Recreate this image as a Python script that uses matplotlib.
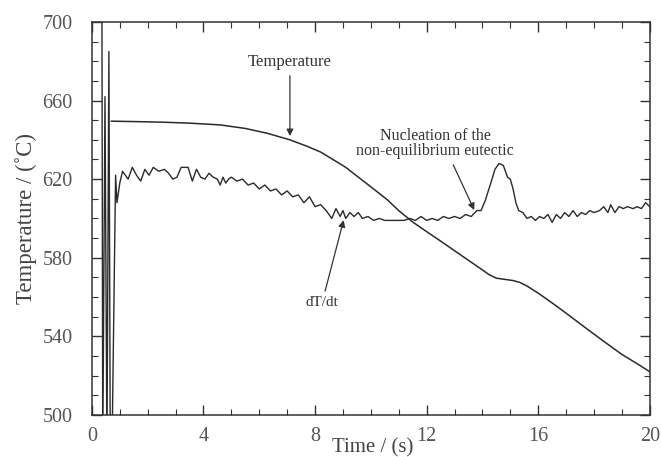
import matplotlib.pyplot as plt
from matplotlib.ticker import MultipleLocator

plt.rcParams['font.family'] = ['Liberation Serif', 'DejaVu Serif']

# temperature curve
temp_t = [0.70, 1.5, 2.5, 3.5, 4.6, 5.5, 6.3, 7.1, 7.7, 8.2, 8.7, 9.1, 9.6, 10.1, 10.6, 11.0,
          11.5, 12.0, 12.5, 13.0, 13.5, 14.0, 14.25, 14.5, 14.8, 15.1, 15.35, 15.6, 16.0, 16.5,
          17.0, 17.7, 18.3, 19.0, 19.5, 20.0]
temp_T = [649.5, 649.3, 649.0, 648.5, 647.6, 645.8, 643.3, 640.0, 636.8, 633.8, 629.5, 626.0,
          620.5, 615.0, 609.4, 604.0, 598.2, 593.3, 588.5, 583.6, 578.7, 573.8, 571.3, 569.6,
          569.0, 568.4, 567.4, 565.6, 562.0, 557.0, 551.8, 544.3, 538.0, 530.8, 526.5, 522.0]

# dT/dt trace, same axis scale
rate_t = [0.36, 0.39, 0.47, 0.54, 0.61, 0.66, 0.72, 0.85, 0.90, 1.0,
          1.1, 1.3, 1.45, 1.6, 1.75, 1.9, 2.05, 2.2, 2.4, 2.6, 2.75, 2.9, 3.05, 3.2, 3.45,
          3.6, 3.75, 3.9, 4.05, 4.2, 4.35, 4.5, 4.6, 4.7, 4.8, 4.9, 5.0, 5.2, 5.4, 5.6,
          5.8, 6.0, 6.2, 6.4, 6.6, 6.8, 7.0, 7.2, 7.4, 7.6, 7.8, 8.0, 8.2, 8.4, 8.6,
          8.75, 8.9, 9.0, 9.1, 9.25, 9.4, 9.55, 9.7, 9.9, 10.1, 10.3, 10.5, 10.8, 11.0, 11.2,
          11.4, 11.6, 11.8, 12.0, 12.2, 12.4, 12.6, 12.8, 13.0, 13.2, 13.4, 13.6, 13.8, 13.95,
          14.1, 14.3, 14.45, 14.6, 14.75, 14.9, 15.0, 15.1, 15.2, 15.3, 15.45, 15.6, 15.75, 15.9,
          16.05, 16.2, 16.35, 16.5, 16.65, 16.8, 16.95, 17.1, 17.25, 17.4, 17.55, 17.7, 17.85,
          18.0, 18.2, 18.35, 18.5, 18.6, 18.75, 18.9, 19.05, 19.2, 19.4, 19.55, 19.7, 19.85, 20.0]
rate_T = [710, 480, 662, 480, 685, 480, 480, 622, 608, 618,
          624, 620, 626, 622, 619, 625, 622, 626, 624, 625, 623, 620, 621, 626, 626,
          619, 625, 621, 620, 623, 621, 620, 617, 621, 618, 620, 621, 619, 620, 617,
          618, 615, 617, 614, 615, 612, 614, 611, 612, 608, 611, 606, 607, 604, 600,
          605, 601, 604, 600, 603, 601, 603, 600, 601, 599, 600, 599, 599, 599, 599,
          600, 599, 601, 599, 600, 599, 601, 600, 601, 600, 602, 601, 604, 604,
          609, 618, 625, 628, 627, 621, 620, 615, 608, 604, 603, 600, 601, 599,
          601, 600, 602, 598, 602, 600, 603, 601, 604, 601, 603, 602, 604,
          603, 604, 606, 603, 607, 603, 606, 605, 606, 605, 606, 605, 608, 606]

y_ticks = [500, 540, 580, 620, 660, 700]

fig = plt.figure(figsize=(6.61, 4.57), dpi=100)
ax = fig.add_axes([0.139, 0.092, 0.844, 0.860])

ax.plot(temp_t, temp_T, color='#2a2a2a', lw=1.1)
ax.plot(rate_t, rate_T, color='#2a2a2a', lw=1.0)

ax.set_xlim(0, 20)
ax.set_ylim(500, 700)
ax.xaxis.set_major_locator(MultipleLocator(4))
ax.xaxis.set_minor_locator(MultipleLocator(1))
ax.set_yticks(y_ticks)
ax.yaxis.set_minor_locator(MultipleLocator(10))
ax.tick_params(which='both', direction='in', top=True, right=True, colors='#333333',
               labelcolor='#555555', labelsize=14.5)
ax.tick_params(which='major', length=7, width=1)
ax.tick_params(which='minor', length=4, width=0.8)
ax.tick_params(axis='y', pad=14)
ax.tick_params(axis='x', pad=9)
for s in ax.spines.values():
    s.set_color('#333333')
    s.set_linewidth(1.1)

ax.set_ylabel('Temperature / (˚C)', fontsize=16.5, color='#444444', labelpad=4)
fig.text(0.564, 0.02, 'Time / (s)', fontsize=15, color='#444444', ha='center', va='center')

arrow = dict(arrowstyle='-|>', color='#333333', lw=0.9, mutation_scale=10)
ax.annotate('Temperature', xy=(7.1, 640.5), xytext=(7.1, 675.5), ha='center', va='bottom',
            fontsize=12, color='#333333', arrowprops=arrow)
ax.annotate('Nucleation of the\nnon-equilibrium eutectic', xy=(13.75, 603), xytext=(12.3, 638),
            ha='center', va='center', fontsize=11.5, color='#333333', linespacing=0.95,
            arrowprops=dict(arrow, relpos=(0.6, 0.0)))
ax.annotate('dT/dt', xy=(9.05, 600.5), xytext=(8.25, 557), ha='center', va='center',
            fontsize=11, color='#333333', arrowprops=arrow)

fig.savefig('out.png', dpi=100)
